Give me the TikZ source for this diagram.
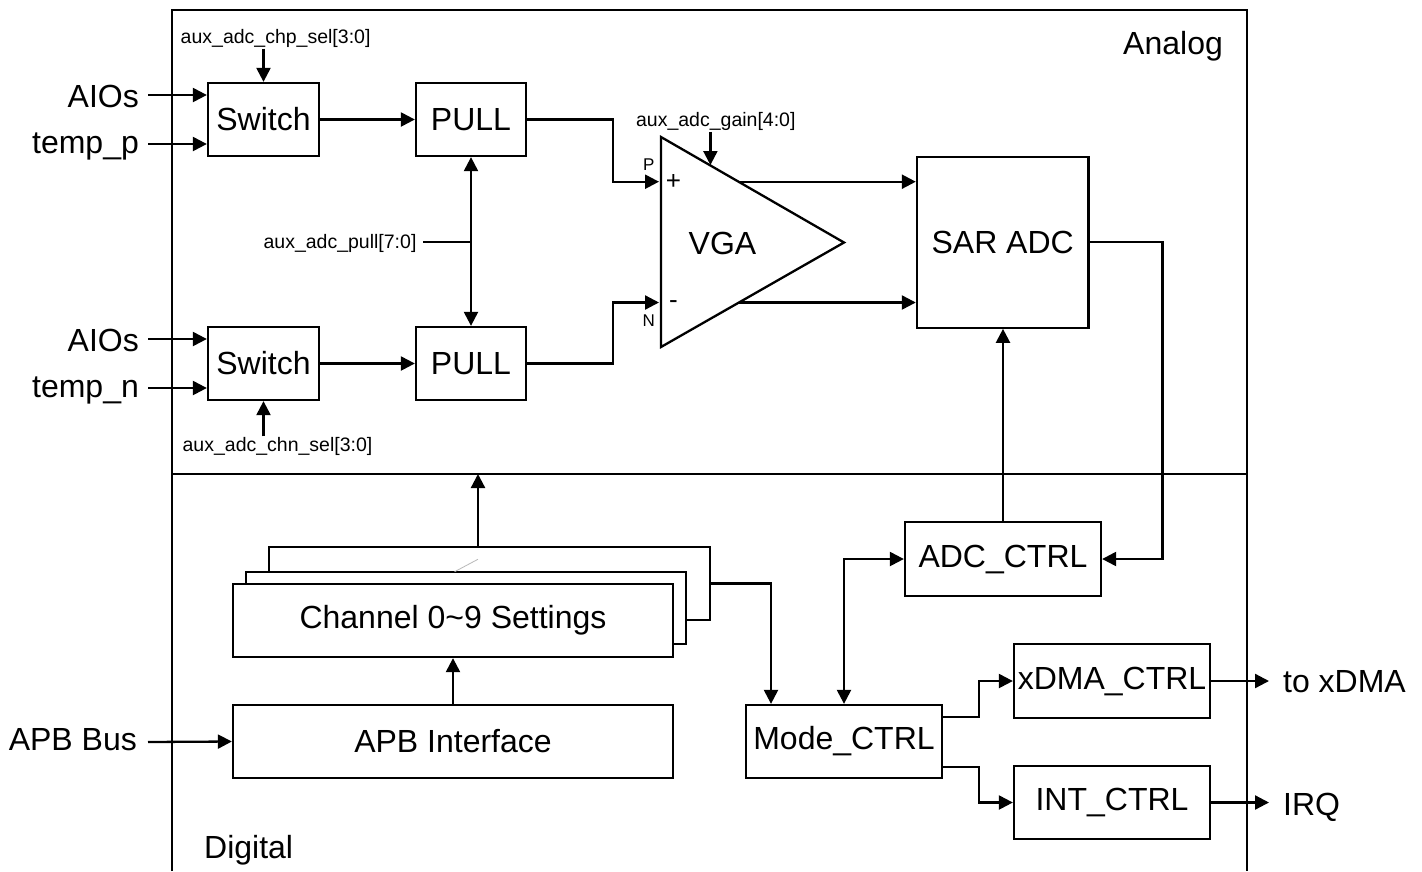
\documentclass[tikz,border=0pt]{standalone}
\usepackage{fontspec}
\setmainfont{Liberation Sans}
\usetikzlibrary{arrows.meta,calc}
\begin{document}
\begin{tikzpicture}[x=1pt,y=-1pt,
  line width=2.3pt,
  bigt/.style={font=\fontsize{32}{36}\selectfont, inner sep=0pt},
  smallt/.style={font=\fontsize{19.5}{22}\selectfont, inner sep=0pt},
  pnt/.style={font=\fontsize{17}{20}\selectfont, inner sep=0pt},
  signt/.style={font=\fontsize{26}{30}\selectfont, inner sep=0pt},
  blk/.style={draw, line width=2.3pt, inner sep=0pt, fill=white, font=\fontsize{32}{36}\selectfont},
  arr/.style={-{Triangle[length=14pt,width=14pt]}},
  darr/.style={{Triangle[length=14pt,width=14pt]}-{Triangle[length=14pt,width=14pt]}},
]
\useasboundingbox (0,0) rectangle (1422,871);

% frame
\coordinate (fbl) at (172,871);
\coordinate (ftl) at (172,10);
\coordinate (ftr) at (1247,10);
\coordinate (fbr) at (1247,871);
\coordinate (dl) at (172,474);
\coordinate (dr) at (1247,474);
\draw (fbl) -- (ftl) -- (ftr) -- (fbr);
\draw (dl) -- (dr);
\node[bigt, anchor=base east] (analog) at (1224,54.3) {Analog};
\node[bigt, anchor=base west] (digital) at (203,858) {Digital};

% analog blocks
\node[blk, minimum width=111pt, minimum height=73pt] (sw1) at (263.5,119.5) {Switch};
\node[blk, minimum width=111pt, minimum height=73pt] (sw2) at (263.5,363.5) {Switch};
\node[blk, minimum width=110pt, minimum height=73pt] (pull1) at (471,119.5) {PULL};
\node[blk, minimum width=110pt, minimum height=73pt] (pull2) at (471,363.5) {PULL};
\node[blk, minimum width=171.5pt, minimum height=171pt] (sar) at (1002.7,242.2) {SAR ADC};

% VGA triangle
\coordinate (vgaT) at (661,137);
\coordinate (vgaA) at (844,242.5);
\coordinate (vgaB) at (661,347);
\draw (vgaT) -- (vgaA) -- (vgaB) -- cycle;
\node[bigt] (vga) at (722.5,243.5) {VGA};
\node[pnt, anchor=base] (plab) at (648.8,170) {P};
\node[pnt, anchor=base] (nlab) at (648.8,326.7) {N};
\node[signt] (plus) at (673.4,181.7) {+};
\node[signt] (minus) at (673.4,305) {-};

% input labels
\node[bigt, anchor=base east] (aios1) at (140,107) {AIOs};
\node[bigt, anchor=base east] (tp) at (140,153) {temp\_p};
\node[bigt, anchor=base east] (aios2) at (140,351) {AIOs};
\node[bigt, anchor=base east] (tn) at (140,397) {temp\_n};
\coordinate (i1) at (148,95);
\coordinate (i2) at (148,144);
\coordinate (i3) at (148,339);
\coordinate (i4) at (148,388);
\draw[arr] (i1) -- (i1 -| sw1.west);
\draw[arr] (i2) -- (i2 -| sw1.west);
\draw[arr] (i3) -- (i3 -| sw2.west);
\draw[arr] (i4) -- (i4 -| sw2.west);

% control labels
\node[smallt, anchor=base] (chp) at (275.6,43.3) {aux\_adc\_chp\_sel[3:0]};
\node[smallt, anchor=base] (chn) at (277.5,451.7) {aux\_adc\_chn\_sel[3:0]};
\node[smallt, anchor=base east] (pl) at (417.6,248) {aux\_adc\_pull[7:0]};
\node[smallt, anchor=base] (gain) at (715.8,126.7) {aux\_adc\_gain[4:0]};
\draw[arr] (chp.south -| sw1.north) -- (sw1.north);
\draw[arr] (chn.north -| sw2.south) -- (sw2.south);
\coordinate (pj) at (471,242.3);
\draw ([xshift=5.5pt]pl.east |- pj) -- (pj);
\draw[darr] (pull1.south) -- (pull2.north);
\coordinate (gainin) at (710.4,165);
\draw[arr] (gain.south -| gainin) -- (gainin);

% analog connectors
\draw[arr] (sw1.east) -- (pull1.west);
\draw[arr] (sw2.east) -- (pull2.west);
\coordinate (vp) at (659,181.7);
\coordinate (vn) at (659,302.5);
\draw[arr] (pull1.east) -- ++(86,0) |- (vp);
\draw[arr] (pull2.east) -- ++(86,0) |- (vn);
\coordinate (vo1) at (738.5,181.7);
\coordinate (vo2) at (738.5,302.5);
\draw[arr] (vo1) -- (vo1 -| sar.west);
\draw[arr] (vo2) -- (vo2 -| sar.west);

% digital blocks
\node[blk, minimum width=441pt, minimum height=73pt] (ch3) at (489.5,583.5) {};
\node[blk, minimum width=440pt, minimum height=72pt] (ch2) at (466,608) {};
\node[blk, minimum width=440pt, minimum height=73pt] (ch1) at (453,620.5) {Channel 0\textasciitilde 9 Settings};
\draw[gray!55, line width=0.8pt] (454.6,571.7) -- (477.9,559.3);
\node[blk, minimum width=440pt, minimum height=73pt] (apb) at (453,741.5) {APB Interface};
\node[blk, minimum width=196pt, minimum height=74pt] (adcc) at (1003,559) {ADC\_CTRL};
\node[blk, minimum width=196pt, minimum height=73pt] (mode) at (844,741.5) {Mode\_CTRL};
\node[blk, minimum width=196pt, minimum height=74pt] (xdma) at (1112,681) {xDMA\_CTRL};
\node[blk, minimum width=196pt, minimum height=73pt] (intc) at (1112,802.5) {INT\_CTRL};

% digital labels
\node[bigt, anchor=base east] (apbbus) at (138,750) {APB Bus};
\node[bigt, anchor=base west] (toxdma) at (1282,692) {to xDMA};
\node[bigt, anchor=base west] (irq) at (1282,815) {IRQ};

% digital connectors
\coordinate (ab) at (148,742);
\draw[arr] (ab) -- (apb.west);
\draw[arr] (apb.north) -- (ch1.south);
\coordinate (divup) at (478,474);
\draw[arr] (ch3.north -| divup) -- (divup);
\draw[arr] (ch3.east) -| ([xshift=-73pt]mode.north);
\draw[darr] (adcc.west) -| (mode.north);
\draw[arr] (sar.east) -- ++(73,0) |- (adcc.east);
\draw[arr] (adcc.north) -- (adcc.north |- sar.south);
\draw[arr] ([yshift=24.5pt]mode.east) -- ++(36,0) |- (xdma.west);
\draw[arr] ([yshift=-25.5pt]mode.east) -- ++(36,0) |- (intc.west);
\coordinate (oxd) at (1269,681);
\coordinate (oirq) at (1269,802.5);
\draw[arr] (xdma.east) -- (oxd);
\draw[arr] (intc.east) -- (oirq);
\end{tikzpicture}
\end{document}
